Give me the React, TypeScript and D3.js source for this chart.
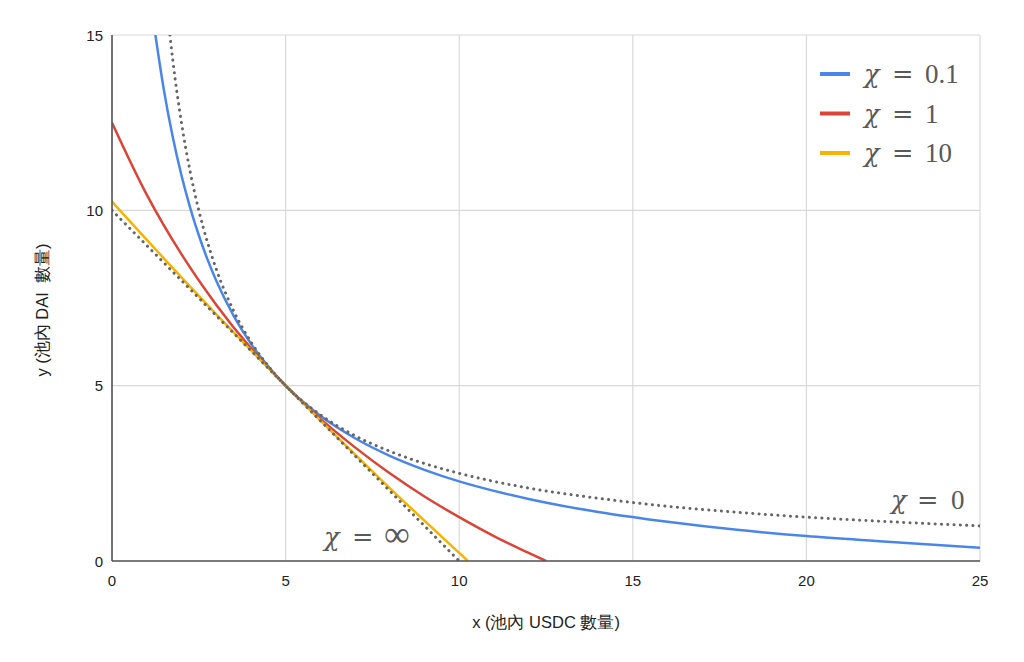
import React from "react";
import * as d3 from "d3";

// ---- data ----
const xTicks = [0, 5, 10, 15, 20, 25];
const yTicks = [0, 5, 10, 15];

const seriesLabels = ["0.1", "1", "10"];

const chi01: [number, number][] = [
  [1.25, 15], [1.5, 13.4], [1.75, 12.09], [2, 11], [2.25, 10.08], [2.5, 9.29],
  [2.75, 8.6], [3, 8], [3.5, 7], [4, 6.2], [4.5, 5.55], [5, 5], [5.5, 4.54],
  [6, 4.14], [7, 3.5], [8, 3], [9, 2.6], [10, 2.27], [11, 2], [12, 1.77],
  [13, 1.57], [14, 1.4], [16, 1.12], [18, 0.89], [20, 0.71], [22, 0.57], [25, 0.38],
];
const chi1: [number, number][] = [
  [0, 12.5], [1, 10.45], [2, 8.75], [3, 7.31], [4, 6.07], [5, 5], [6, 4.06],
  [7, 3.24], [8, 2.5], [9, 1.84], [10, 1.25], [11, 0.71], [12, 0.23], [12.5, 0],
];
const chi10: [number, number][] = [
  [0, 10.25], [2, 8.09], [4, 6.01], [5, 5], [6, 4.01], [8, 2.08], [10, 0.23], [10.25, 0],
];
const chi0: [number, number][] = [
  [1.667, 15], [1.75, 14.29], [2, 12.5], [2.25, 11.11], [2.5, 10], [3, 8.33],
  [3.5, 7.14], [4, 6.25], [4.5, 5.56], [5, 5], [6, 4.17], [7, 3.57], [8, 3.13],
  [9, 2.78], [10, 2.5], [12, 2.08], [14, 1.79], [16, 1.56], [18, 1.39],
  [20, 1.25], [22, 1.14], [25, 1],
];
const chiInf: [number, number][] = [[0, 10], [10, 0]];

const colors = ["#4a86e8", "#db4437", "#f4b400"];

export default function App() {
  const W = 1024, H = 662;
  const left = 112, right = 980, top = 35, bottom = 561;
  const x = d3.scaleLinear().domain([0, 25]).range([left, right]);
  const y = d3.scaleLinear().domain([0, 15]).range([bottom, top]);
  const line = d3
    .line<[number, number]>()
    .x((d) => x(d[0]))
    .y((d) => y(d[1]))
    .curve(d3.curveMonotoneX);

  const solid = [chi01, chi1, chi10];
  const sans = "'Liberation Sans', Arial, sans-serif";
  const serif = "'Liberation Serif', 'Times New Roman', serif";
  const mathColor = "#595959";

  const MathLabel = ({ xs, baseline, value, size, valueSize }: { xs: [number, number, number]; baseline: number; value: string; size: number; valueSize?: number }) => (
    <text y={baseline} fontFamily={serif} fontSize={size} fill={mathColor}>
      <tspan x={xs[0]} fontStyle="italic" fontFamily="'DejaVu Serif', serif" fontSize={size * 0.95}>χ</tspan>
      <tspan x={xs[1]} fontFamily="'DejaVu Serif', serif" fontSize={size * 0.95}>=</tspan>
      <tspan x={xs[2]} fontSize={valueSize || size}>{value}</tspan>
    </text>
  );

  return (
    <svg width={W} height={H} style={{ position: "absolute", left: 0, top: 0, background: "#fff" }}>
      <defs>
        <clipPath id="plot">
          <rect x={left} y={top} width={right - left} height={bottom - top} />
        </clipPath>
      </defs>
      {/* grid */}
      {xTicks.map((t) => (
        <line key={"gx" + t} x1={x(t)} x2={x(t)} y1={top} y2={bottom} stroke="#d9d9d9" strokeWidth={1.2} />
      ))}
      {yTicks.map((t) => (
        <line key={"gy" + t} x1={left} x2={right} y1={y(t)} y2={y(t)} stroke="#d9d9d9" strokeWidth={1.2} />
      ))}
      {/* curves */}
      <g clipPath="url(#plot)">
        {solid.map((s, i) => (
          <path key={"s" + i} d={line(s) || ""} fill="none" stroke={colors[i]} strokeWidth={2.5} />
        ))}
        {[chi0, chiInf].map((s, i) => (
          <path key={"d" + i} d={line(s) || ""} fill="none" stroke="#666" strokeWidth={3}
            strokeDasharray="0.1 6.2" strokeLinecap="round" />
        ))}
      </g>
      {/* axes */}
      <line x1={left} x2={left} y1={top} y2={bottom} stroke="#555" strokeWidth={1.6} />
      <line x1={left} x2={right} y1={bottom} y2={bottom} stroke="#555" strokeWidth={1.6} />
      {xTicks.map((t) => (
        <text key={"tx" + t} x={x(t)} y={586} textAnchor="middle" fontFamily={sans} fontSize={15} fill="#222">{t}</text>
      ))}
      {yTicks.map((t) => (
        <text key={"ty" + t} x={103} y={y(t) + 5.5} textAnchor="end" fontFamily={sans} fontSize={15} fill="#222">{t}</text>
      ))}
      <text x={546} y={628} textAnchor="middle" fontFamily={sans} fontSize={16.5} fill="#222">x (池內 USDC 數量)</text>
      <text transform="translate(48,310) rotate(-90)" textAnchor="middle" fontFamily={sans} fontSize={16.5} fill="#222" style={{ whiteSpace: "pre" }}>
        y (池內 DAI  數量)
      </text>
      {/* legend */}
      {seriesLabels.map((lab, i) => (
        <g key={"lg" + i}>
          <line x1={820} x2={850} y1={74 + i * 39.5} y2={74 + i * 39.5} stroke={colors[i]} strokeWidth={4} />
          <MathLabel xs={[864, 892, 925]} baseline={83 + i * 39.5} value={lab} size={27} />
        </g>
      ))}
      <MathLabel xs={[891, 917, 951]} baseline={509} value="0" size={27} />
      <MathLabel xs={[324, 352, 384]} baseline={546} value="∞" size={27} valueSize={36} />
    </svg>
  );
}
